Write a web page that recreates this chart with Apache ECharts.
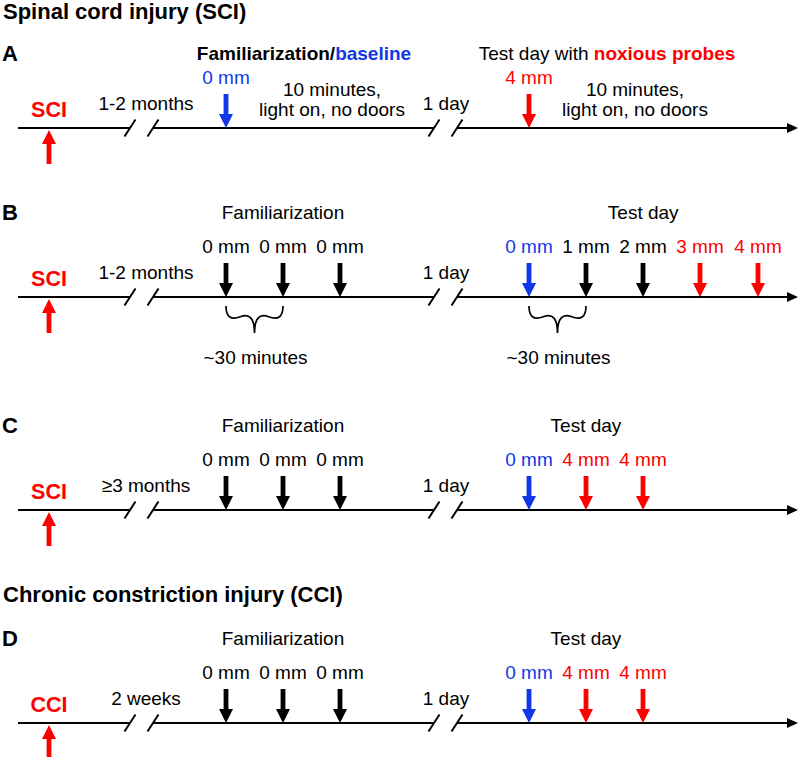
<!DOCTYPE html>
<html><head><meta charset="utf-8">
<script src="https://cdn.jsdelivr.net/npm/echarts@6/dist/echarts.min.js"></script>
<style>html,body{margin:0;padding:0;background:#fff}#c{width:800px;height:757px}</style>
</head><body><div id="c"></div>
<script>
// ---- data ----
const panels = ['A', 'B', 'C', 'D'];
const rowLevels = [128, 297, 510, 723];
const groupTitles = ['Spinal cord injury (SCI)', 'Chronic constriction injury (CCI)'];
const groupTitleLevels = [11, 594];
const injuries = ['SCI', 'SCI', 'SCI', 'CCI'];
const injuryIntervals = ['1-2 months', '1-2 months', '\u22653 months', '2 weeks'];
const dayIntervals = ['1 day', '1 day', '1 day', '1 day'];
const famHeaders = ['Familiarization/baseline', 'Familiarization', 'Familiarization', 'Familiarization'];
const testHeaders = ['Test day with noxious probes', 'Test day', 'Test day', 'Test day'];
const famSlots = [226, 283, 340];
const testSlots = [529, 586, 643, 700, 758];
const famProbes = [[0], [0, 0, 0], [0, 0, 0], [0, 0, 0]];   // mm
const testProbes = [[4], [0, 1, 2, 3, 4], [0, 4, 4], [0, 4, 4]]; // mm
const sessionNotes = [['10 minutes,', 'light on, no doors'], null, null, null];
const spacingNotes = [null, '~30 minutes', null, null];
const injuryX = 49;
const breakX = [[130, 153], [434, 457]];
const axisStart = 18, axisEnd = 798;

// ---- styles ----
const BLUE = '#1038e8', RED = '#ff0000', BLACK = '#000000';
const FF = '"Liberation Sans", Arial, sans-serif';
const FS = 19;
const f = (w, s) => (w ? 'bold ' : '') + s + 'px ' + FF;

function testColor(mm) { return mm === 0 ? BLUE : (mm >= 3 ? RED : BLACK); }
function famColor(i) { return famHeaders[i].indexOf('baseline') >= 0 ? BLUE : BLACK; }

// ---- build marks ----
const arrows = [];  // {x,row,dir,color}
const braces = [];  // {x1,x2,row}
const texts = [];   // {x,y,dy,text,font,fill,align,rich}
const mean = a => a.reduce((s, v) => s + v, 0) / a.length;

groupTitles.forEach((t, k) => texts.push({x: 3, y: groupTitleLevels[k], dy: 0, text: t, font: f(1, 22), fill: BLACK, align: 'left'}));

panels.forEach((p, i) => {
  const row = rowLevels[i];
  const hasNotes = !!sessionNotes[i];
  const hdy = hasNotes ? -75 : -85;
  texts.push({x: 2, y: row, dy: hdy, text: p, font: f(1, 22), fill: BLACK, align: 'left'});
  // injury
  arrows.push({x: injuryX, row, dir: 1, color: RED});
  texts.push({x: injuryX, y: row, dy: -18, text: injuries[i], font: f(1, 21.5), fill: RED, align: 'center'});
  texts.push({x: 146, y: row, dy: -25, text: injuryIntervals[i], font: f(0, FS), fill: BLACK, align: 'center'});
  texts.push({x: 446, y: row, dy: -25, text: dayIntervals[i], font: f(0, FS), fill: BLACK, align: 'center'});
  // familiarization probes
  const fx = famProbes[i].map((mm, k) => famSlots[k]);
  famProbes[i].forEach((mm, k) => {
    arrows.push({x: fx[k], row, dir: -1, color: famColor(i)});
    texts.push({x: fx[k], y: row, dy: -51, text: mm + ' mm', font: f(0, FS), fill: famColor(i), align: 'center'});
  });
  const tx = testProbes[i].map((mm, k) => testSlots[k]);
  testProbes[i].forEach((mm, k) => {
    arrows.push({x: tx[k], row, dir: -1, color: testColor(mm)});
    texts.push({x: tx[k], y: row, dy: -51, text: mm + ' mm', font: f(0, FS), fill: testColor(mm), align: 'center'});
  });
  // headers
  if (hasNotes) {
    const fp = famHeaders[i].split('/');
    texts.push({x: fx[0] + 78, y: row, dy: hdy, text: '{k|' + fp[0] + '/}{b|' + fp[1] + '}', align: 'center',
      rich: {k: {fontWeight: 'bold', fontSize: FS, fontFamily: FF, fill: BLACK}, b: {fontWeight: 'bold', fontSize: FS, fontFamily: FF, fill: BLUE}}});
    const tp = testHeaders[i].split('with ');
    texts.push({x: tx[0] + 78, y: row, dy: hdy, text: '{n|' + tp[0] + 'with }{r|' + tp[1] + '}', align: 'center',
      rich: {n: {fontSize: FS, fontFamily: FF, fill: BLACK}, r: {fontWeight: 'bold', fontSize: FS, fontFamily: FF, fill: RED}}});
    sessionNotes[i].forEach((line, l) => {
      texts.push({x: fx[0] + 106, y: row, dy: -39 + l * 20, text: line, font: f(0, FS), fill: BLACK, align: 'center'});
      texts.push({x: tx[0] + 106, y: row, dy: -39 + l * 20, text: line, font: f(0, FS), fill: BLACK, align: 'center'});
    });
  } else {
    texts.push({x: mean(fx), y: row, dy: hdy, text: famHeaders[i], font: f(0, FS), fill: BLACK, align: 'center'});
    texts.push({x: mean(tx), y: row, dy: hdy, text: testHeaders[i], font: f(0, FS), fill: BLACK, align: 'center'});
  }
  if (spacingNotes[i]) {
    [[fx[0], fx[1]], [tx[0], tx[1]]].forEach(([a, b]) => {
      braces.push({x1: a, x2: b, row});
      texts.push({x: (a + b) / 2 + 1, y: row, dy: 60, text: spacingNotes[i], font: f(0, FS), fill: BLACK, align: 'center'});
    });
  }
});

// ---- chart ----
const chart = echarts.init(document.getElementById('c'), null, {renderer: 'svg'});
chart.setOption({
  animation: false,
  backgroundColor: '#ffffff',
  grid: {left: 0, right: 0, top: 0, bottom: 0},
  xAxis: {type: 'value', min: 0, max: 800, show: false},
  yAxis: {type: 'value', min: 0, max: 757, inverse: true, show: false},
  series: [
    { // timelines
      type: 'custom', silent: true,
      data: rowLevels.map(r => [axisStart, r]),
      renderItem(params, api) {
        const row = api.value(1);
        const segs = [[api.value(0), breakX[0][0]], [breakX[0][1], breakX[1][0]], [breakX[1][1], axisEnd - 9]];
        const children = segs.map(([a, b]) => {
          const p1 = api.coord([a, row]), p2 = api.coord([b, row]);
          return {type: 'line', shape: {x1: p1[0], y1: p1[1], x2: p2[0], y2: p2[1]}, style: {stroke: BLACK, lineWidth: 2}};
        });
        breakX.flat().forEach(bx => {
          const c = api.coord([bx, row]);
          children.push({type: 'line', shape: {x1: c[0] - 5.5, y1: c[1] + 8.5, x2: c[0] + 5.5, y2: c[1] - 8.5}, style: {stroke: BLACK, lineWidth: 2}});
        });
        const e = api.coord([axisEnd, row]);
        children.push({type: 'polygon', shape: {points: [[e[0], e[1]], [e[0] - 11, e[1] - 5], [e[0] - 11, e[1] + 5]]}, style: {fill: BLACK}});
        return {type: 'group', children};
      }
    },
    { // arrows
      type: 'custom', silent: true,
      data: arrows.map(a => [a.x, a.row]),
      renderItem(params, api) {
        const a = arrows[params.dataIndex];
        const p = api.coord([api.value(0), api.value(1)]);
        const s = a.dir, x = p[0], y = p[1] + (s > 0 ? 2 : 0);
        const L = 34, H = 14, HW = 7, SW = 2.4;
        return {type: 'polygon', shape: {points: [
          [x, y], [x + HW, y + s * H], [x + SW, y + s * H], [x + SW, y + s * L],
          [x - SW, y + s * L], [x - SW, y + s * H], [x - HW, y + s * H]]},
          style: {fill: a.color}};
      }
    },
    { // braces (classic curly brace, tip pointing down)
      type: 'custom', silent: true,
      data: braces.map(b => [b.x1, b.row, b.x2]),
      renderItem(params, api) {
        const p1 = api.coord([api.value(0), api.value(1)]), p2 = api.coord([api.value(2), api.value(1)]);
        const x1 = p1[0], x2 = p2[0], y0 = p1[1] + 9, w = 27, q = 0.6;
        const len = x2 - x1, xm = (x1 + x2) / 2;
        const d = `M${x1} ${y0} Q${x1} ${y0 + q * w} ${x1 + len / 4} ${y0 + (1 - q) * w} T${xm} ${y0 + w} ` +
                  `M${x2} ${y0} Q${x2} ${y0 + q * w} ${x2 - len / 4} ${y0 + (1 - q) * w} T${xm} ${y0 + w}`;
        return {type: 'path', shape: {pathData: d}, style: {stroke: BLACK, lineWidth: 1.7, fill: null}};
      }
    },
    { // texts
      type: 'custom', silent: true,
      data: texts.map(t => [t.x, t.y]),
      renderItem(params, api) {
        const t = texts[params.dataIndex];
        const p = api.coord([api.value(0), api.value(1)]);
        const style = {x: p[0], y: p[1] + t.dy, text: t.text, align: t.align, verticalAlign: 'middle'};
        if (t.rich) style.rich = t.rich; else { style.font = t.font; style.fill = t.fill; }
        return {type: 'text', style};
      }
    }
  ]
});
</script>
</body></html>
